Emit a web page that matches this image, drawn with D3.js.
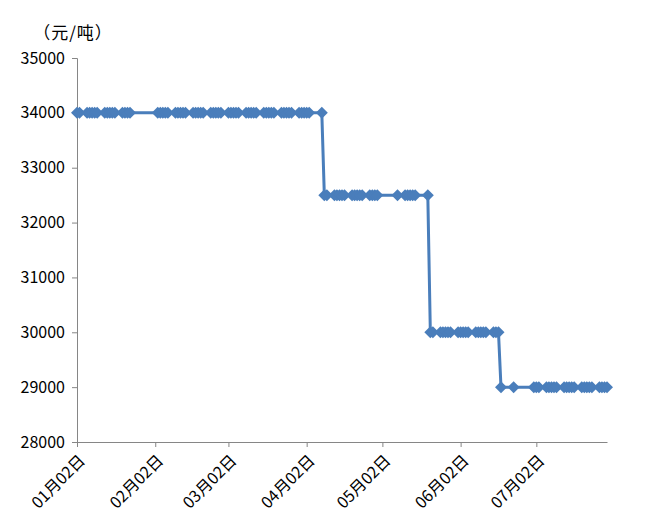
<!DOCTYPE html>
<html>
<head>
<meta charset="utf-8">
<script src="https://cdn.jsdelivr.net/npm/d3@7"></script>
<style>
  body { margin: 0; background: #fff; }
  text { font-family: "Noto Sans CJK SC", "Noto Sans", sans-serif; fill: #000; }
</style>
</head>
<body>
<div id="chart"></div>
<script>
// price levels (元/吨) and the quote dates at each level, 2020
var year = 2020;
var dates34000 = ["01-02","01-03","01-06","01-07","01-08","01-09","01-10","01-13","01-14","01-15",
  "01-16","01-17","01-20","01-21","01-22","01-23",
  "02-03","02-04","02-05","02-06","02-07","02-10","02-11","02-12","02-13","02-14","02-17","02-18",
  "02-19","02-20","02-21","02-24","02-25","02-26","02-27","02-28",
  "03-02","03-03","03-04","03-05","03-06","03-09","03-10","03-11","03-12","03-13","03-16","03-17",
  "03-18","03-19","03-20","03-23","03-24","03-25","03-26","03-27","03-30","03-31",
  "04-01","04-02","04-03","04-08"];
var dates32500 = ["04-09","04-10","04-13","04-14","04-15","04-16","04-17","04-20","04-21","04-22",
  "04-23","04-24","04-27","04-28","04-29","04-30","05-08","05-11","05-12","05-13","05-14","05-15","05-20"];
var dates30000 = ["05-21","05-22","05-25","05-26","05-27","05-28","05-29","06-01","06-02","06-03",
  "06-04","06-05","06-08","06-09","06-10","06-11","06-12","06-15","06-16","06-17"];
var dates29000 = ["06-18","06-23","07-01","07-02","07-03","07-06","07-07","07-08","07-09","07-10",
  "07-13","07-14","07-15","07-16","07-17","07-20","07-21","07-22","07-23","07-24","07-27","07-28",
  "07-29","07-30"];
var levels = [34000, 32500, 30000, 29000];
var yTicks = [28000, 29000, 30000, 31000, 32000, 33000, 34000, 35000];
var xTickDates = ["01-02","02-02","03-02","04-02","05-02","06-02","07-02"];
var unitLabel = "（元/吨）";

var parse = d3.timeParse("%Y-%m-%d");
var data = [];
[dates34000, dates32500, dates30000, dates29000].forEach(function (list, i) {
  list.forEach(function (d) {
    data.push({ date: parse(year + "-" + d), price: levels[i] });
  });
});

var margin = { top: 58, right: 58, bottom: 88, left: 77 },
  width = 665 - margin.left - margin.right,
  height = 530 - margin.top - margin.bottom;

var svg = d3.select("#chart")
  .append("svg")
  .attr("width", 665)
  .attr("height", 530);

var g = svg.append("g")
  .attr("transform", "translate(" + margin.left + "," + margin.top + ")");

var x = d3.scaleTime()
  .domain([parse(year + "-01-02"), parse(year + "-07-30")])
  .range([0, width]);

var y = d3.scaleLinear()
  .domain([28000, 35000])
  .range([height, 0]);

var axisColor = "#868686";

// Y axis
var yAxis = g.append("g")
  .call(d3.axisLeft(y).tickValues(yTicks).tickSize(5).tickPadding(7).tickFormat(d3.format("d")));
yAxis.select(".domain").attr("stroke", axisColor);
yAxis.selectAll(".tick line").attr("stroke", axisColor);
yAxis.selectAll(".tick text").style("font-size", "16px");

// X axis
var xAxis = g.append("g")
  .attr("transform", "translate(0," + height + ")")
  .call(d3.axisBottom(x)
    .tickValues(xTickDates.map(function (d) { return parse(year + "-" + d); }))
    .tickSize(5).tickSizeOuter(0)
    .tickFormat(d3.timeFormat("%m月%d日")));
xAxis.select(".domain").attr("stroke", axisColor);
xAxis.selectAll(".tick line").attr("stroke", axisColor);
xAxis.selectAll(".tick text")
  .style("font-size", "16px")
  .attr("text-anchor", "end")
  .attr("dx", "0")
  .attr("dy", "0")
  .attr("transform", "translate(3,14) rotate(-45)");

// unit label
svg.append("text")
  .attr("x", 73)
  .attr("y", 39)
  .attr("text-anchor", "middle")
  .style("font-size", "17px")
  .style("letter-spacing", "1px")
  .text(unitLabel);

var blue = "#4a7ebb";

var line = d3.line()
  .x(function (d) { return x(d.date); })
  .y(function (d) { return y(d.price); });

g.append("path")
  .datum(data)
  .attr("fill", "none")
  .attr("stroke", blue)
  .attr("stroke-width", 3)
  .attr("d", line);

// diamond markers
var r = 6;
g.selectAll(".marker")
  .data(data)
  .enter()
  .append("path")
  .attr("class", "marker")
  .attr("fill", blue)
  .attr("d", function (d) {
    var cx = x(d.date), cy = y(d.price);
    return "M" + cx + "," + (cy - r) + "L" + (cx + r) + "," + cy +
      "L" + cx + "," + (cy + r) + "L" + (cx - r) + "," + cy + "Z";
  });
</script>
</body>
</html>
